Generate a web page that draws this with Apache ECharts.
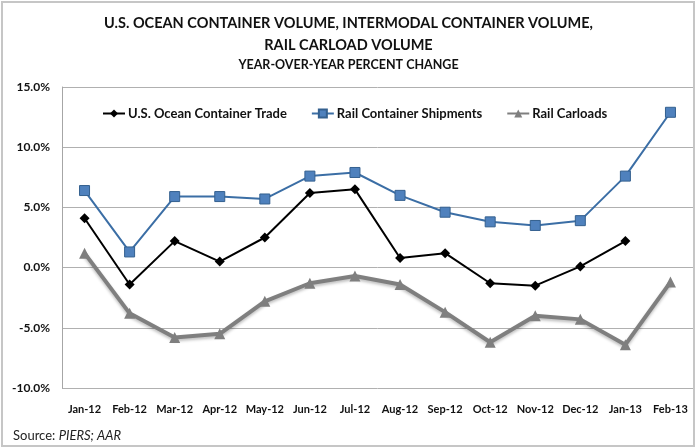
<!DOCTYPE html>
<html>
<head>
<meta charset="utf-8">
<script src="https://cdn.jsdelivr.net/npm/echarts@6/dist/echarts.min.js"></script>
<style>
  html, body { margin: 0; padding: 0; background: #fff; }
  #chart { width: 697px; height: 448px; }
</style>
</head>
<body>
<div id="chart"></div>
<script>
const months = ['Jan-12', 'Feb-12', 'Mar-12', 'Apr-12', 'May-12', 'Jun-12', 'Jul-12',
  'Aug-12', 'Sep-12', 'Oct-12', 'Nov-12', 'Dec-12', 'Jan-13', 'Feb-13'];
const oceanTrade = [4.1, -1.4, 2.2, 0.5, 2.5, 6.2, 6.5, 0.8, 1.2, -1.3, -1.5, 0.1, 2.2, null];
const railContainers = [6.4, 1.3, 5.9, 5.9, 5.7, 7.6, 7.9, 6.0, 4.6, 3.8, 3.5, 3.9, 7.6, 12.9];
const railCarloads = [1.2, -3.8, -5.8, -5.5, -2.8, -1.3, -0.7, -1.4, -3.7, -6.2, -4.0, -4.3, -6.4, -1.2];
const yTicks = { min: -10, max: 15, step: 5 };

const font = 'Lato, Noto Sans, sans-serif';
const chart = echarts.init(document.getElementById('chart'));

const option = {
  animation: false,
  textStyle: { fontFamily: font },
  graphic: [{
    type: 'rect',
    shape: { x: 2, y: 2, width: 692, height: 444 },
    style: { fill: 'none', stroke: '#c6c6c6', lineWidth: 2 },
    silent: true
  }],
  title: [
    {
      text: 'U.S. OCEAN CONTAINER VOLUME, INTERMODAL CONTAINER VOLUME,\nRAIL CARLOAD VOLUME',
      left: 'center',
      top: 7,
      textStyle: { fontSize: 14.5, fontWeight: 'bold', color: '#111', lineHeight: 22, fontFamily: font }
    },
    {
      text: 'YEAR-OVER-YEAR PERCENT CHANGE',
      left: 'center',
      top: 53,
      textStyle: { fontSize: 12.5, fontWeight: 'bold', color: '#111', fontFamily: font }
    },
    {
      text: '{n|Source: }{i|PIERS; AAR}',
      left: 8,
      top: 424,
      textStyle: {
        rich: {
          n: { fontSize: 13, color: '#222', fontWeight: 'normal', fontFamily: font },
          i: { fontSize: 13, color: '#222', fontWeight: 'normal', fontStyle: 'italic', fontFamily: font }
        }
      }
    }
  ],
  legend: {
    top: 102,
    left: 97,
    itemWidth: 22,
    itemHeight: 10,
    itemGap: 24,
    textStyle: { fontSize: 13, fontWeight: 'bold', color: '#111', fontFamily: font, padding: [0, 0, 0, -2] },
    data: ['U.S. Ocean Container Trade', 'Rail Container Shipments', 'Rail Carloads']
  },
  grid: { left: 62, right: 4, top: 87, bottom: 60 },
  xAxis: {
    type: 'category',
    data: months,
    boundaryGap: true,
    axisTick: { show: false },
    axisLine: { show: false },
    axisLabel: { interval: 0, fontSize: 11, fontWeight: 'bold', color: '#111', margin: 16 }
  },
  yAxis: {
    type: 'value',
    min: yTicks.min,
    max: yTicks.max,
    interval: yTicks.step,
    axisLine: { show: true, lineStyle: { color: '#a6a6a6', width: 1 } },
    axisTick: { show: false },
    splitLine: { lineStyle: { color: '#b0b0b0', width: 1 } },
    axisLabel: {
      fontSize: 12, fontWeight: 'bold', color: '#111', margin: 12,
      formatter: v => v.toFixed(1) + '%'
    }
  },
  series: [
    {
      name: 'U.S. Ocean Container Trade',
      type: 'line',
      data: oceanTrade,
      symbol: 'diamond',
      symbolSize: 10,
      lineStyle: { color: '#000', width: 2 },
      itemStyle: { color: '#000' },
      z: 4
    },
    {
      name: 'Rail Container Shipments',
      type: 'line',
      data: railContainers,
      symbol: 'rect',
      symbolSize: 10,
      lineStyle: { color: '#3b6ea5', width: 2 },
      itemStyle: { color: '#4f81bd', borderColor: '#34608f', borderWidth: 1 },
      z: 3
    },
    {
      name: 'Rail Carloads',
      type: 'line',
      data: railCarloads,
      symbol: 'triangle',
      symbolSize: 11,
      lineStyle: { color: '#7f7f7f', width: 4, shadowColor: 'rgba(0,0,0,0.25)', shadowBlur: 3, shadowOffsetY: 2 },
      itemStyle: { color: '#7f7f7f' },
      z: 2
    }
  ]
};

chart.setOption(option);
</script>
</body>
</html>
